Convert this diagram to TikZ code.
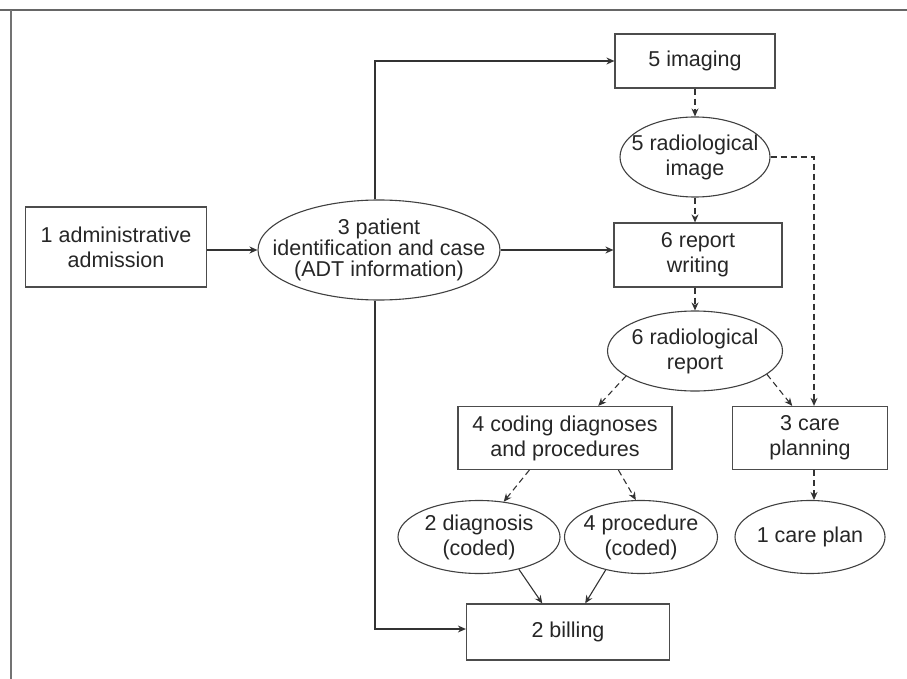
\documentclass[tikz,border=0pt]{standalone}
\usepackage{fontspec}
\setmainfont{Liberation Sans}
\usetikzlibrary{shapes.geometric,arrows.meta}
\begin{document}
\begin{tikzpicture}[x=1pt,y=-1pt,
  txt/.style={font=\fontsize{21.5}{25}\selectfont, align=center, text=black!85, inner sep=0pt},
  procbox/.style={txt, draw=black!70, line width=1.2pt, rectangle},
  dataell/.style={draw=black!75, line width=1.1pt, ellipse, inner sep=0pt},
  flow/.style={draw=black!80, line width=1.1pt, -{Stealth[length=8pt,width=7pt]}},
  dflow/.style={flow, dash pattern=on 6pt off 4pt}]
\path[use as bounding box] (0,0) rectangle (907,679);
% frame
\coordinate (ftl) at (0,10);
\coordinate (ftr) at (907,10);
\coordinate (flt) at (11,10);
\coordinate (flb) at (11,679);
\draw[black!60, line width=1.2pt] (ftl) -- (ftr);
\draw[black!55, line width=1.2pt] (flt) -- (flb);
% nodes
\node[procbox, minimum width=181, minimum height=80] (adm) at (116,247) {1 administrative\\admission};
\node[dataell, minimum width=242, minimum height=100] (pat) at (379,250) {};
\node[txt, font=\fontsize{21.5}{21}\selectfont] (patt) at (pat) {3 patient\\identification and case\\(ADT information)};
\node[procbox, minimum width=160, minimum height=54] (img) at (695,61) {5 imaging};
\node[dataell, minimum width=150, minimum height=80] (rimg) at (695,157) {};
\node[txt] (rimgt) at (rimg) {5 radiological\\image};
\node[procbox, minimum width=168, minimum height=64] (rep) at (698,255) {6 report\\writing};
\node[dataell, minimum width=175, minimum height=80] (rrep) at (695,351) {};
\node[txt] (rrept) at (rrep) {6 radiological\\report};
\node[procbox, minimum width=214, minimum height=63] (cod) at (565,438) {4 coding diagnoses\\and procedures};
\node[procbox, minimum width=155, minimum height=63] (care) at (810,438) {3 care\\planning};
\node[dataell, minimum width=162, minimum height=73] (diag) at (479,537) {};
\node[txt] (diagt) at (diag) {2 diagnosis\\(coded)};
\node[dataell, minimum width=153, minimum height=73] (proc) at (641,537) {};
\node[txt] (proct) at (proc) {4 procedure\\(coded)};
\node[dataell, minimum width=150, minimum height=73] (plan) at (810,537) {};
\node[txt] (plant) at (plan) {1 care plan};
\node[procbox, minimum width=203, minimum height=56] (bill) at (568,632) {2 billing};
% solid connectors
\draw[flow] (adm.east |- pat.west) -- (pat.west);
\draw[flow] ([xshift=-4]pat.north) |- (img.west);
\draw[flow] (pat.east) -- (pat.east -| rep.west);
\draw[flow] ([xshift=-4]pat.south) |- ([yshift=3]bill.west);
\draw[flow] (diag.-39) -- (bill.132);
\draw[flow] (proc.-137) -- (bill.59);
% dashed connectors
\draw[dflow] (img.south) -- (rimg.north);
\draw[dflow] (rimg.south) -- (rimg.south |- rep.north);
\draw[dflow] (rimg.east) -| ([xshift=4]care.north);
\draw[dflow] (rep.south -| rrep.north) -- (rrep.north);
\draw[dflow] (rrep.200) -- (cod.44);
\draw[dflow] (rrep.-18) -- (care.119);
\draw[dflow] (cod.222) -- (diag.55);
\draw[dflow] (cod.-31) -- (proc.98);
\draw[dflow] ([xshift=4]care.south) -- ([xshift=4]care.south |- plan.north);
\end{tikzpicture}
\end{document}
